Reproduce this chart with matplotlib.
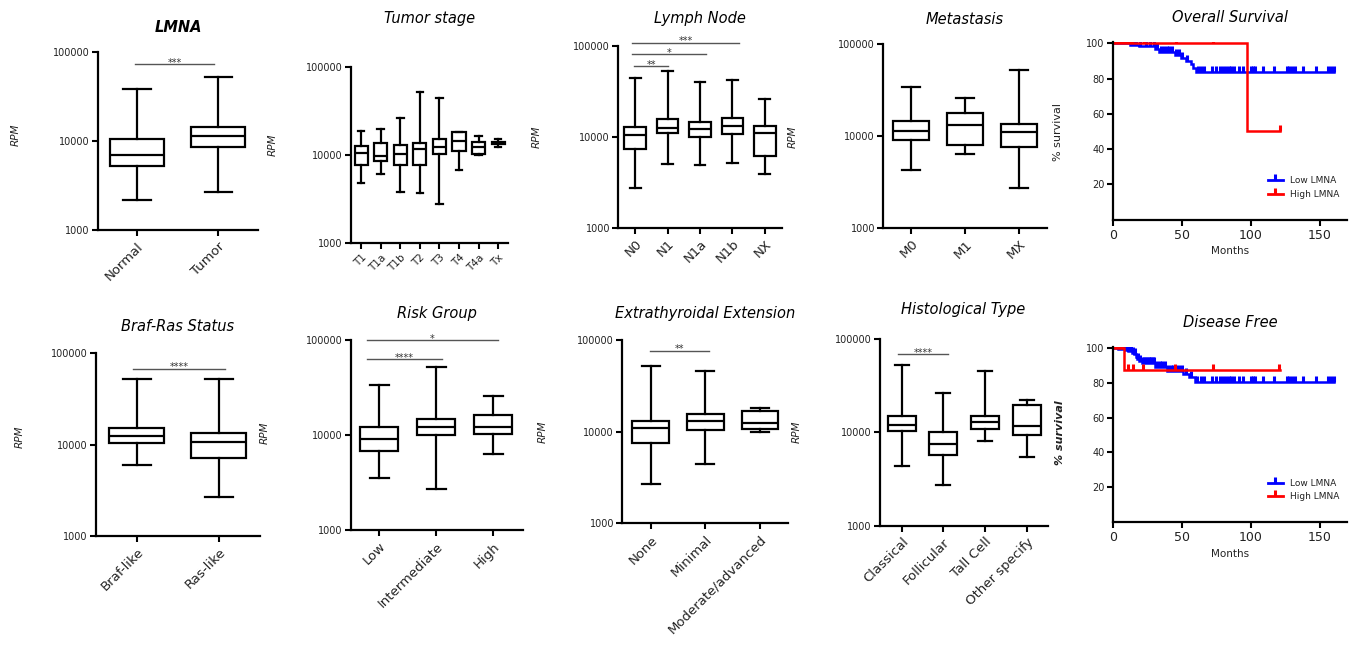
import matplotlib
matplotlib.use('Agg')
import bisect
import matplotlib.pyplot as plt
from matplotlib.lines import Line2D

plt.rcParams['font.family'] = ['DejaVu Sans']

# ---------------- data ----------------
# box stats per category: (whisker low, Q1, median, Q3, whisker high)
LMNA_CATS = ['Normal', 'Tumor']
LMNA_STATS = [(2170, 5240, 6960, 10450, 38400), (2690, 8570, 11400, 14400, 52800)]
LMNA_SIG = [(-0.02, 0.95, 73300, '***')]

TSTAGE_CATS = ['T1', 'T1a', 'T1b', 'T2', 'T3', 'T4', 'T4a', 'Tx']
TSTAGE_STATS = [(4730, 7640, 10370, 12560, 18700),
                (5990, 8550, 9660, 13700, 19400),
                (3800, 7570, 10260, 12900, 25900),
                (3640, 7640, 11600, 13700, 52000),
                (2730, 10100, 12300, 15200, 44400),
                (6760, 10900, 14400, 18100, 18300),
                (9940, 10100, 12200, 14100, 16300),
                (12300, 13400, 13600, 13800, 15000)]

LYMPH_CATS = ['N0', 'N1', 'N1a', 'N1b', 'NX']
LYMPH_STATS = [(2750, 7380, 10400, 12900, 44500),
               (5050, 11060, 12550, 15500, 53100),
               (4920, 10000, 12040, 14600, 40200),
               (5140, 10700, 13200, 16200, 42000),
               (3850, 6180, 11060, 13100, 25900)]
LYMPH_SIG = [(-0.1, 3.2, 108000, '***'), (-0.1, 2.2, 81600, '*'), (-0.04, 1.02, 60300, '**')]

META_CATS = ['M0', 'M1', 'MX']
META_STATS = [(4250, 9080, 11380, 14600, 34000),
              (6400, 7890, 13200, 17900, 25800),
              (2730, 7550, 11100, 13500, 52100)]

BRAF_CATS = ['Braf-like', 'Ras-like']
BRAF_STATS = [(5990, 10500, 12400, 15100, 52400), (2700, 7150, 10780, 13300, 52400)]
BRAF_SIG = [(-0.04, 1.08, 68000, '****')]

RISK_CATS = ['Low', 'Intermediate', 'High']
RISK_STATS = [(3560, 6840, 9150, 12200, 33600),
              (2710, 10090, 12200, 14900, 52400),
              (6310, 10260, 12200, 16400, 25800)]
RISK_SIG = [(-0.22, 2.09, 100000, '*'), (-0.22, 1.11, 63100, '****')]

ETE_CATS = ['None', 'Minimal', 'Moderate/advanced']
ETE_STATS = [(2710, 7580, 10870, 13200, 52500),
             (4480, 10500, 12960, 15400, 45500),
             (9910, 10600, 12500, 16900, 18300)]
ETE_SIG = [(-0.02, 1.07, 76600, '**')]

HIST_CATS = ['Classical', 'Follicular', 'Tall Cell', 'Other specify']
HIST_STATS = [(4400, 10330, 12070, 14800, 52700),
              (2750, 5720, 7570, 10090, 26400),
              (8150, 10770, 12800, 15100, 45400),
              (5480, 9440, 11800, 19600, 22400)]
HIST_SIG = [(-0.08, 1.11, 69000, '****')]

# survival step curves (event times in months, survival %)
OS_LOW_T = [0, 12.8, 18.9, 31, 33.4, 45, 49.2, 52.8, 56.4, 58.1, 60]
OS_LOW_S = [100, 99.2, 98.5, 97, 94.9, 93.5, 91.8, 90, 88.2, 86, 83.8]
OS_LOW_END = 160
OS_LOW_CENSOR = [0.5, 1, 1.5, 2, 3, 4, 5, 6, 7, 8, 9, 11, 13, 15, 17, 20, 24, 27, 30, 32, 35, 37,
                 39, 41, 43, 46, 48, 50, 54, 61.5, 64, 66, 72, 74.5, 78, 80, 82, 84, 86, 88, 91.5,
                 94.5, 100, 101.5, 103, 109, 117, 126.5, 128, 130, 132, 138, 147.5, 156, 158, 160]
OS_HIGH_T = [0, 97.6]
OS_HIGH_S = [100, 50]
OS_HIGH_END = 121
OS_HIGH_CENSOR = [1, 2, 3, 4, 5, 6, 7, 8, 9, 10, 12, 14, 22.5, 46, 73, 121]

DF_LOW_T = [0, 4.1, 9, 11.4, 13.8, 15.5, 16.9, 17.9, 19.1, 21, 30.8, 39.2, 51.3, 55, 59.8]
DF_LOW_S = [100, 99.5, 99, 98.5, 97.5, 96.6, 95.2, 93.7, 92.8, 91.6, 89, 86.9, 85.5, 83.3, 80.4]
DF_LOW_END = 160
DF_LOW_CENSOR = [0.5, 1, 2, 3, 5, 6, 7, 8, 10, 12, 13, 15, 16, 18, 20, 22, 23, 24, 25, 26, 27, 28,
                 29, 30, 32, 34, 36, 38, 40, 42, 44, 46, 48, 50, 53, 57, 61, 64, 66, 72, 74.5, 78,
                 80, 82, 84, 86, 88, 91.5, 94.5, 100, 101.5, 103, 109, 117, 126.5, 128, 130, 132,
                 138, 147.5, 156, 158, 160]
DF_HIGH_T = [0, 8.5]
DF_HIGH_S = [100, 87.6]
DF_HIGH_END = 121
DF_HIGH_CENSOR = [1, 2, 3, 4, 5, 6, 7, 11.4, 15, 22.3, 45.3, 72.4, 120.8]

# ---------------- figure ----------------
W, H = 1357, 653
fig = plt.figure(figsize=(W / 100, H / 100), dpi=100)
TXT = '#222222'


def add_ax(l, r, t, b):
    return fig.add_axes([l / W, 1 - b / H, (r - l) / W, (b - t) / H])


def style_axes(ax):
    for s in ('top', 'right'):
        ax.spines[s].set_visible(False)
    for s in ('left', 'bottom'):
        ax.spines[s].set_linewidth(1.6)
    ax.tick_params(direction='out', length=4, width=1.5, colors='black', labelcolor=TXT)


def box_panel(rect, cats, stats, sig=(), catsize=9.5, xlim=None):
    ax = add_ax(*rect)
    bx = [dict(whislo=s[0], q1=s[1], med=s[2], q3=s[3], whishi=s[4], label=c)
          for c, s in zip(cats, stats)]
    lw = 1.6
    ax.bxp(bx, positions=list(range(len(cats))), widths=0.67, showfliers=False,
           patch_artist=True,
           boxprops=dict(facecolor='white', edgecolor='black', linewidth=lw),
           medianprops=dict(color='black', linewidth=lw),
           whiskerprops=dict(color='black', linewidth=lw),
           capprops=dict(color='black', linewidth=lw))
    ax.set_yscale('log')
    ax.set_ylim(1000, 100000)
    ax.set_yticks([1000, 10000, 100000])
    ax.set_yticklabels(['1000', '10000', '100000'])
    ax.minorticks_off()
    n = len(cats)
    ax.set_xlim(*(xlim if xlim else (-0.52, n - 0.48)))
    style_axes(ax)
    ax.tick_params(axis='y', labelsize=7, pad=2)
    ax.set_xticks(range(n))
    ax.set_xticklabels(cats, rotation=45, ha='right', rotation_mode='anchor', fontsize=catsize)
    ax.tick_params(axis='x', pad=3)
    for x1, x2, y, lab in sig:
        ax.plot([x1, x2], [y, y], color='#555555', lw=1.0, clip_on=False)
        ax.text((x1 + x2) / 2, y * 0.955, lab, ha='center', va='baseline', fontsize=7,
                color='#333333', clip_on=False)
    return ax


def surv_value(times, vals, t):
    i = bisect.bisect_right(times, t) - 1
    return vals[max(i, 0)]


def surv_panel(rect, curves):
    ax = add_ax(*rect)
    for times, vals, end, cens, col in curves:
        ax.step(times + [end], vals + [vals[-1]], where='post', color=col, lw=1.8,
                solid_joinstyle='miter')
        ax.plot(cens, [surv_value(times, vals, c) for c in cens], ls='none', marker=2,
                ms=4, mew=2.2, color=col)
    ax.set_xlim(0, 170)
    ax.set_ylim(0, 101)
    ax.set_xticks([0, 50, 100, 150])
    ax.set_yticks([20, 40, 60, 80, 100])
    style_axes(ax)
    ax.tick_params(axis='x', labelsize=9, pad=3)
    ax.tick_params(axis='y', labelsize=7, pad=2)
    ax.set_xlabel('Months', fontsize=7.5, color=TXT, labelpad=3)
    handles = [Line2D([], [], color='blue', lw=2, marker=2, ms=4, mew=2.2),
               Line2D([], [], color='red', lw=2, marker=2, ms=4, mew=2.2)]
    ax.legend(handles, ['Low LMNA', 'High LMNA'], loc='center right', bbox_to_anchor=(1.0, 0.18),
              frameon=False, fontsize=6.5, handlelength=1.6, handletextpad=0.8, labelspacing=0.5,
              labelcolor=TXT)
    return ax


# top row
box_panel((98, 258, 52, 230), LMNA_CATS, LMNA_STATS, LMNA_SIG, xlim=(-0.48, 1.49))
box_panel((350.7, 508, 66.7, 242.7), TSTAGE_CATS, TSTAGE_STATS, (), catsize=7.5, xlim=(-0.53, 7.5))
box_panel((618.3, 781.7, 45.7, 227.7), LYMPH_CATS, LYMPH_STATS, LYMPH_SIG, catsize=9.5)
box_panel((883.3, 1047.3, 44, 227.7), META_CATS, META_STATS, (), catsize=9.5)
surv_panel((1112.7, 1347.3, 41.7, 219.5),
           [(OS_LOW_T, OS_LOW_S, OS_LOW_END, OS_LOW_CENSOR, 'blue'),
            (OS_HIGH_T, OS_HIGH_S, OS_HIGH_END, OS_HIGH_CENSOR, 'red')])

# bottom row
box_panel((95.7, 260, 353.3, 536), BRAF_CATS, BRAF_STATS, BRAF_SIG, xlim=(-0.5, 1.5))
box_panel((350.7, 523.3, 340, 530), RISK_CATS, RISK_STATS, RISK_SIG, xlim=(-0.5, 2.53))
box_panel((622.3, 788.3, 340, 523.3), ETE_CATS, ETE_STATS, ETE_SIG)
box_panel((880, 1048.3, 339, 525.7), HIST_CATS, HIST_STATS, HIST_SIG)
surv_panel((1112.7, 1347.3, 346.7, 521.7),
           [(DF_LOW_T, DF_LOW_S, DF_LOW_END, DF_LOW_CENSOR, 'blue'),
            (DF_HIGH_T, DF_HIGH_S, DF_HIGH_END, DF_HIGH_CENSOR, 'red')])

# titles
TITLES = [('LMNA', 178, 27, 'bold'), ('Tumor stage', 430, 19, 'normal'),
          ('Lymph Node', 700, 19, 'normal'), ('Metastasis', 965, 19, 'normal'),
          ('Overall Survival', 1230, 18, 'normal'), ('Braf-Ras Status', 178, 327, 'normal'),
          ('Risk Group', 437, 313, 'normal'), ('Extrathyroidal Extension', 705, 313, 'normal'),
          ('Histological Type', 963, 310, 'normal'), ('Disease Free', 1230, 323, 'normal')]
for txt, x, y, wt in TITLES:
    fig.text(x / W, 1 - y / H, txt, ha='center', va='center', fontsize=10.5, style='italic',
             weight=wt, color='black')

# y labels
YLABELS = [('RPM', 16, 135, 'italic', 'normal', 7.5), ('RPM', 273, 145, 'italic', 'normal', 7.5),
           ('RPM', 537, 137, 'italic', 'normal', 7.5), ('RPM', 793, 137, 'italic', 'normal', 7.5),
           ('% survival', 1058, 132, 'normal', 'normal', 8),
           ('RPM', 20, 437, 'italic', 'normal', 7.5), ('RPM', 265, 433, 'italic', 'normal', 7.5),
           ('RPM', 543, 432, 'italic', 'normal', 7.5), ('RPM', 797, 432, 'italic', 'normal', 7.5),
           ('% survival', 1060, 433, 'italic', 'bold', 8)]
for txt, x, y, st, wt, fs in YLABELS:
    fig.text(x / W, 1 - y / H, txt, ha='center', va='center', rotation=90, fontsize=fs,
             style=st, weight=wt, color=TXT)

fig.savefig('out.png', dpi=100)
